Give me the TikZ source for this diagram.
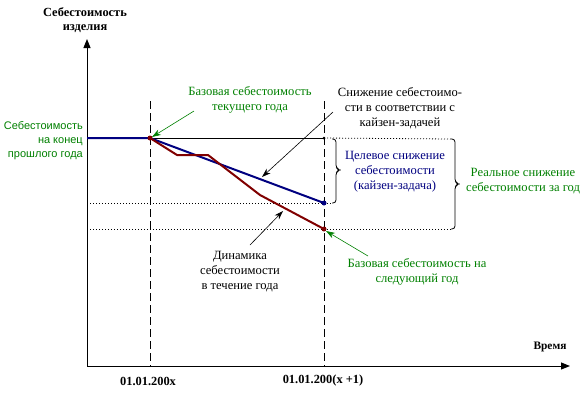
\documentclass[tikz,border=0pt]{standalone}
\usepackage{fontspec}
\setmainfont{Liberation Serif}
\newfontfamily\arialf{Liberation Sans}
\usetikzlibrary{arrows.meta}
\definecolor{tgreen}{RGB}{0,128,0}
\definecolor{tnavy}{RGB}{0,0,128}
\definecolor{tred}{RGB}{128,0,0}
\tikzset{
  axis/.style={line width=1pt, -{Triangle[length=9pt,width=7pt]}},
  vdash/.style={line width=0.9pt, dash pattern=on 8pt off 4pt},
  dotline/.style={line width=0.8pt, dash pattern=on 1pt off 2pt},
  brace/.style={line width=0.8pt, rounded corners=3pt},
  bluel/.style={tnavy, line width=2pt},
  redl/.style={tred, line width=2pt},
  garrow/.style={tgreen, line width=0.6pt, -{Stealth[length=9pt,width=6pt]}},
  karrow/.style={black, line width=0.6pt, -{Stealth[length=9pt,width=6pt]}},
  txt/.style={font=\fontsize{12.6}{15}\selectfont, align=center, inner sep=0pt},
  btxt/.style={font=\fontsize{12.4}{14}\selectfont\bfseries, align=center, inner sep=0pt},
}
\begin{document}
\begin{tikzpicture}[x=1pt,y=-1pt]
\useasboundingbox (0,0) rectangle (584,392);
% coordinates
\coordinate (O) at (87,366);
\coordinate (Ytop) at (87,39);
\coordinate (Xend) at (570,366);
\coordinate (P0) at (87,138);
\coordinate (A) at (150,138);
\coordinate (T) at (324,138);
\coordinate (B) at (324,203);
\coordinate (R) at (324,229);
\coordinate (r1) at (177,155);
\coordinate (r2) at (208,155);
\coordinate (r3) at (260,195);
\coordinate (D1t) at (150,101);
\coordinate (D1b) at (150,366);
\coordinate (D2t) at (324,101);
\coordinate (D2b) at (324,366);
\coordinate (L203) at (87,203);
\coordinate (L229) at (87,229);
\coordinate (BrT) at (451,139);
\coordinate (BrB) at (451,229);
\coordinate (SbT) at (332,139);
\coordinate (SbB) at (332,203);
% dashed verticals
\draw[vdash] (D1t) -- (D1b);
\draw[vdash] (D2t) -- (D2b);
% dotted guide lines
\draw[dotline] (L203) -- (B) -- (SbB);
\draw[dotline] (L229) -- (R) -- (BrB);
\draw[dotline] (T) -- (BrT);
% solid horizontal
\draw[line width=0.8pt] (P0) -- (T);
% braces
\draw[brace] (SbT) -- (336,139) -- (336,168) -- (340,170) -- (336,172) -- (336,203) -- (SbB);
\draw[brace] (BrT) -- (455,139) -- (455,182) -- (459,184) -- (455,186) -- (455,229) -- (BrB);
% axes
\draw[axis] (O) -- (Ytop);
\draw[axis] (O) -- (Xend);
% cost lines
\draw[bluel] (P0) -- (A) -- (B);
\draw[redl, line join=round] (A) -- (r1) -- (r2) -- (r3) -- (R);
\fill[tred] (A) circle (2.5pt);
\fill[tred] (R) circle (2.5pt);
\fill[tnavy] (B) circle (2.5pt);
\fill[black] (T) circle (1.5pt);
% texts
\node[btxt] (ylab) at (85,20) {Себестоимость\\изделия};
\node[font=\fontsize{11}{14}\selectfont\arialf, align=right, inner sep=0pt, anchor=east, text=tgreen] (prev) at (83,141) {Себестоимость\\на конец\\прошлого года};
\node[txt, text=tgreen] (base) at (250,100) {Базовая себестоимость\\текущего года};
\node[txt] (kaiz) at (400,108) {Снижение себестоимо-\\сти в соответствии с\\кайзен-задачей};
\node[txt, text=tnavy] (target) at (395,172) {Целевое снижение\\себестоимости\\(кайзен-задача)};
\node[txt, text=tgreen] (real) at (523,181) {Реальное снижение\\себестоимости за год};
\node[txt] (dyn) at (240,272) {Динамика\\себестоимости\\в течение года};
\node[txt, text=tgreen] (next) at (417,272) {Базовая себестоимость на\\следующий год};
\node[btxt, font=\fontsize{11.4}{14}\selectfont\bfseries] (time) at (550,347) {Время};
\node[btxt] (d1) at (148,381) {01.01.200x};
\node[btxt] (d2) at (323,381) {01.01.200(x +1)};
% arrow anchors
\coordinate (g1s) at (194,111);
\coordinate (g1e) at (152,137);
\coordinate (k1s) at (333,112);
\coordinate (k1e) at (262,177);
\coordinate (k2s) at (250,245);
\coordinate (k2e) at (283,211);
\coordinate (g2s) at (368,256);
\coordinate (g2e) at (326,231);
\draw[garrow] (g1s) -- (g1e);
\draw[karrow] (k1s) -- (k1e);
\draw[karrow] (k2s) -- (k2e);
\draw[garrow] (g2s) -- (g2e);
\end{tikzpicture}
\end{document}
